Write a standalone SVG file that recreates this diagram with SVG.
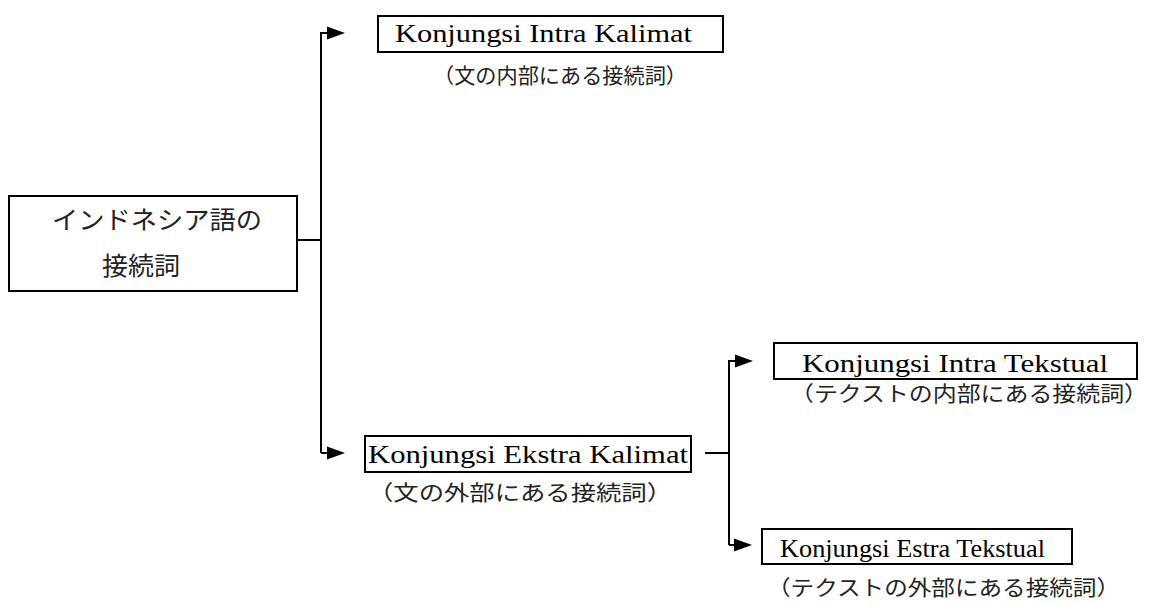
<svg xmlns="http://www.w3.org/2000/svg" width="1154" height="606" viewBox="0 0 1154 606">
<defs>
<style>
.box{fill:#fff;stroke:#000;stroke-width:2}
.lat{font-family:"Liberation Serif","DejaVu Serif",serif;font-size:25px;fill:#000}
.jp{font-family:"Noto Sans CJK JP",sans-serif;font-size:21px;fill:#222}
.jpm{font-family:"Noto Sans CJK JP",sans-serif;font-size:25px;fill:#222}
.ln{fill:none;stroke:#000;stroke-width:2}
.ah{fill:#000;stroke:none}
</style>
</defs>
<g id="connectors">
<path class="ln" d="M297,240 H321"/>
<path class="ln" d="M321,453 V33 H330"/>
<path class="ah" d="M327,26.5 L345,33 L327,39.5 Z"/>
<path class="ln" d="M321,453 H330"/>
<path class="ah" d="M327,446.5 L345,453 L327,459.5 Z"/>
<path class="ln" d="M705,453 H729"/>
<path class="ln" d="M729,545 V361 H738"/>
<path class="ah" d="M735,354.5 L753,361 L735,367.5 Z"/>
<path class="ln" d="M729,545 H737"/>
<path class="ah" d="M734,538.5 L752,545 L734,551.5 Z"/>
</g>
<g id="root">
<rect class="box" x="9" y="196" width="288" height="95"/>
<text class="jpm" x="52" y="229" textLength="210" lengthAdjust="spacingAndGlyphs">インドネシア語の</text>
<text class="jpm" x="102" y="275" textLength="78" lengthAdjust="spacingAndGlyphs">接続詞</text>
</g>
<g id="intra-kalimat">
<rect class="box" x="378" y="16" width="345" height="36"/>
<text class="lat" x="395" y="42" textLength="297" lengthAdjust="spacingAndGlyphs">Konjungsi Intra Kalimat</text>
<text class="jp" x="433" y="83" textLength="254" lengthAdjust="spacingAndGlyphs">（文の内部にある接続詞）</text>
</g>
<g id="ekstra-kalimat">
<rect class="box" x="365" y="436" width="326" height="36"/>
<text class="lat" x="368" y="463" textLength="320" lengthAdjust="spacingAndGlyphs">Konjungsi Ekstra Kalimat</text>
<text class="jp" x="368" y="500" textLength="304" lengthAdjust="spacingAndGlyphs">（文の外部にある接続詞）</text>
</g>
<g id="intra-tekstual">
<rect class="box" x="774" y="343" width="363" height="36"/>
<text class="lat" x="802" y="372" textLength="306" lengthAdjust="spacingAndGlyphs">Konjungsi Intra Tekstual</text>
<text class="jp" x="790" y="401" textLength="358" lengthAdjust="spacingAndGlyphs">（テクストの内部にある接続詞）</text>
</g>
<g id="estra-tekstual">
<rect class="box" x="762" y="529" width="310" height="35"/>
<text class="lat" x="780" y="557" textLength="265" lengthAdjust="spacingAndGlyphs">Konjungsi Estra Tekstual</text>
<text class="jp" x="767" y="595" textLength="353" lengthAdjust="spacingAndGlyphs">（テクストの外部にある接続詞）</text>
</g>
</svg>
